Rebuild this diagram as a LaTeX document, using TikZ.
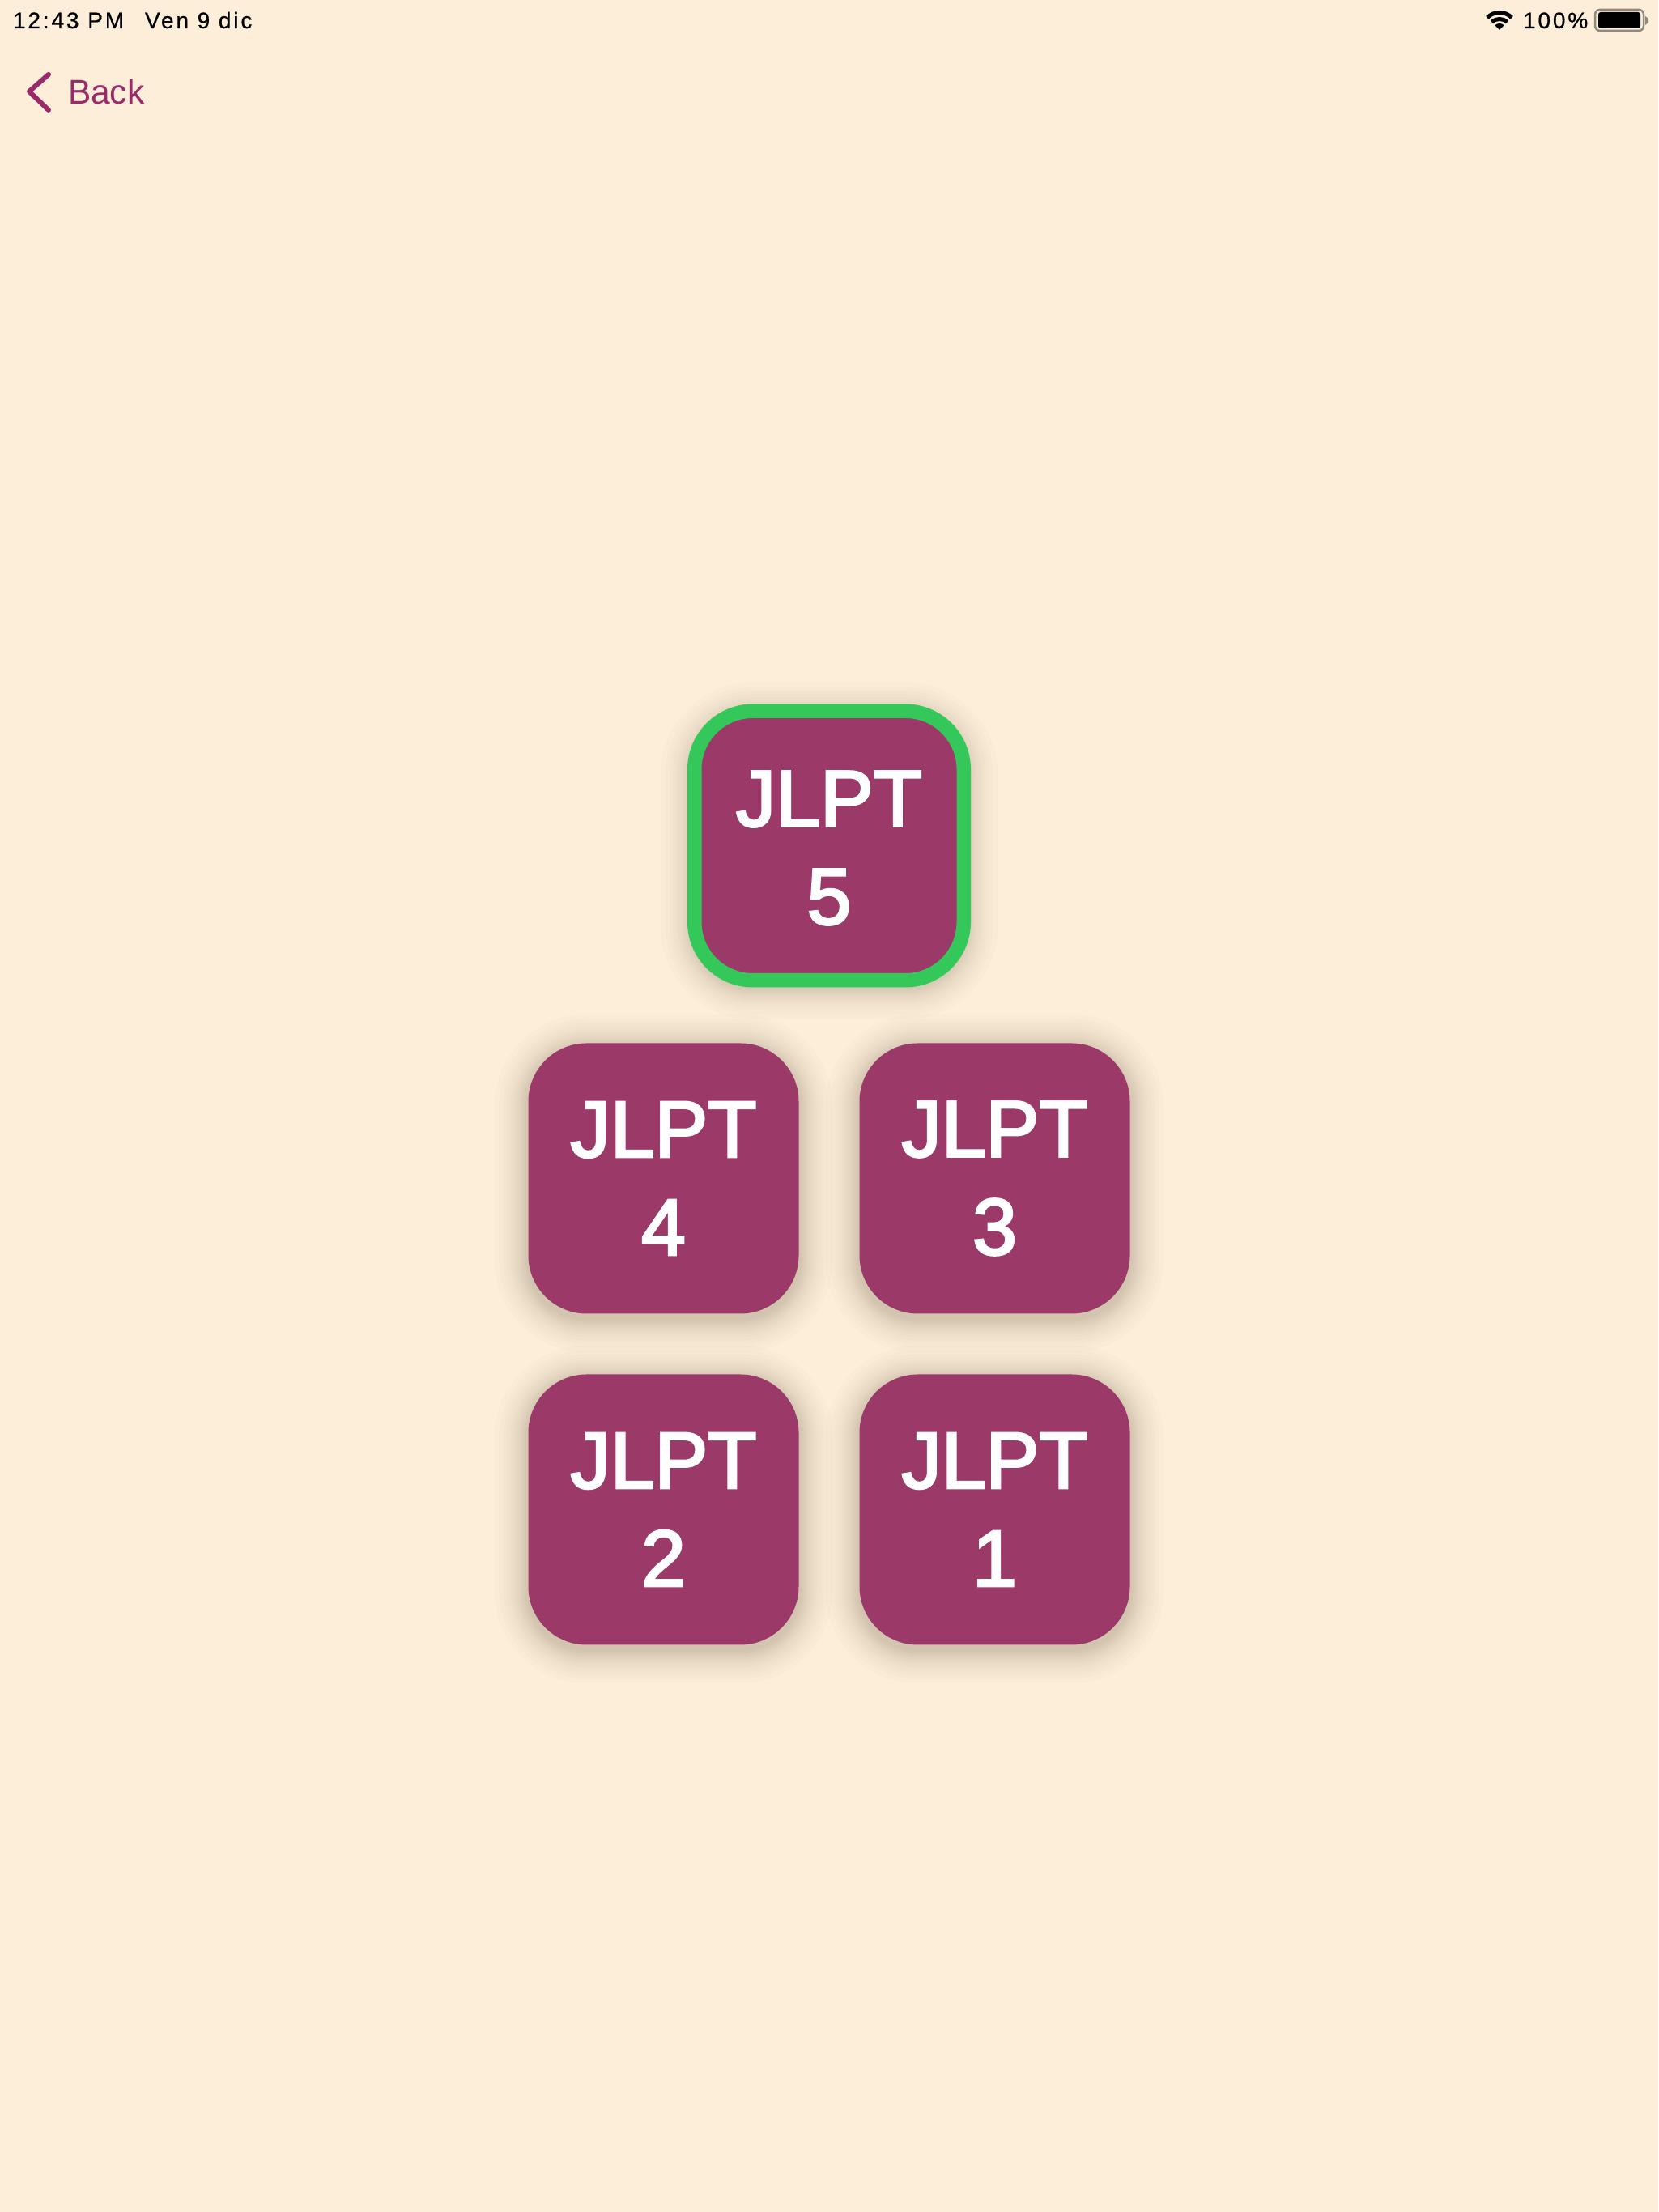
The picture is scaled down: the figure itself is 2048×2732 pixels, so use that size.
\documentclass[tikz,border=0pt]{standalone}
\usepackage{fontspec}
\usepackage{tikz}
\usetikzlibrary{calc, positioning}
\setmainfont{Liberation Sans}
\newfontfamily\tilefont[RawFeature={embolden=3}]{Liberation Sans}
\newfontfamily\statusfont[LetterSpace=10.3, RawFeature={embolden=0.6}]{Liberation Sans}
\pgfdeclarelayer{back}
\pgfdeclarelayer{bg}
\pgfsetlayers{back,bg,main}
\definecolor{pagecream}{HTML}{FDEEDA}
\definecolor{tileplum}{HTML}{9B3A68}
\definecolor{backplum}{HTML}{9B2A6A}
\definecolor{ringgreen}{HTML}{34C759}
\definecolor{battrim}{HTML}{8F897E}
\tikzset{
	tile/.style={fill=tileplum, text=white, rounded corners=72pt, minimum width=334pt, minimum height=334pt, outer sep=0pt, inner sep=0pt, align=center, font=\tilefont\fontsize{98.5}{121}\selectfont},
	status/.style={anchor=base west, inner sep=0pt, outer sep=0pt, text=black, font=\statusfont\fontsize{28}{32}\selectfont},
	wifiarc/.style={line width=5pt, black},
}
\newcommand{\tileshadow}[1]{%
	\foreach \r in {2,4,6,8,10,12,14,17,20,23,27,31,36,42} {
		\fill[black, opacity=0.013, rounded corners=72pt+\r pt] ($(#1.south west)+(-\r pt,-\r pt-6pt)$) rectangle ($(#1.north east)+(\r pt,\r pt-6pt)$);
	}
}

\begin{document}
\begin{tikzpicture}[x=1pt, y=1pt]

		% page %
		\useasboundingbox (0,0) rectangle (2048,2732);
		\begin{pgfonlayer}{back}
			\fill[pagecream] (0,0) rectangle (2048,2732);
		\end{pgfonlayer}

		% status bar %
		\node[status] (clock) at (16,2697) {12:43 PM};
		\node[status] (date) at (179,2697) {Ven 9 dic};
		\node[status] (charge) at (1881,2697) {100\%};

		% wifi icon %
		\coordinate (wifi) at (1852,2695);
		\fill[black] (wifi) -- ($(wifi)+(45:8)$) arc (45:135:8) -- cycle;
		\draw[wifiarc] ($(wifi)+(45:13.5)$) arc (45:135:13.5);
		\draw[wifiarc] ($(wifi)+(45:21.5)$) arc (45:135:21.5);

		% battery icon %
		\draw[battrim, line width=2.5pt, rounded corners=6pt] (1970,2694) rectangle (2030,2720);
		\fill[black, rounded corners=3pt] (1974,2697) rectangle (2026,2717);
		\fill[battrim] (2032,2701) -- (2036,2704) -- (2036,2709) -- (2032,2712) -- cycle;

		% back button %
		\coordinate (chevtop) at (60,2640);
		\coordinate (chevtip) at (36,2619);
		\coordinate (chevend) at (60,2596);
		\draw[backplum, line width=6pt, line cap=round, line join=round] (chevtop) -- (chevtip) -- (chevend);
		\node[status, text=backplum, font=\fontsize{42.5}{46}\selectfont] (back) at (84,2603) {Back};

		% tiles %
		\node[tile, draw=ringgreen, line width=17.5pt, minimum width=332.5pt, minimum height=332.5pt] (jlptfive) at (1024,1687.5) {\rule{0pt}{74pt}JLPT\\5};
		\node[tile] (jlptfour) at (819.5,1276.5) {JLPT\\4};
		\node[tile, right=75pt of jlptfour] (jlptthree) {JLPT\\3};
		\node[tile, below=75pt of jlptfour] (jlpttwo) {JLPT\\2};
		\node[tile, right=75pt of jlpttwo] (jlptone) {JLPT\\1};

		% shadows %
		\begin{pgfonlayer}{bg}
			\foreach \t in {jlptfive, jlptfour, jlptthree, jlpttwo, jlptone} {
				\tileshadow{\t}
			}
		\end{pgfonlayer}

\end{tikzpicture}
\end{document}
